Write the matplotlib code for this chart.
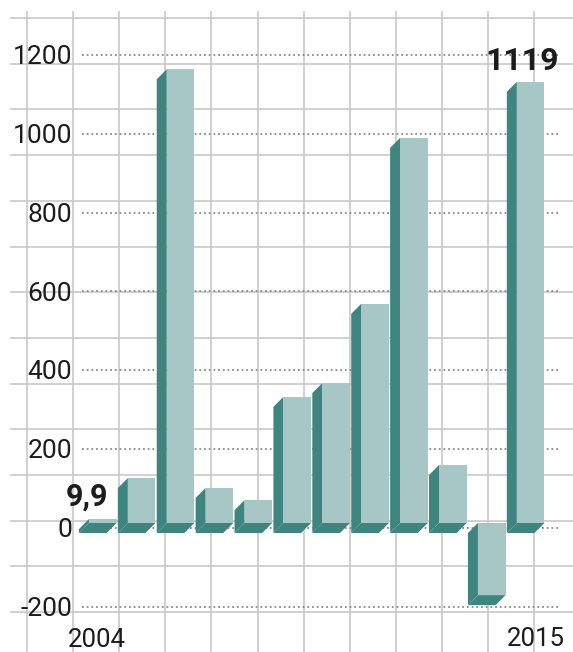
import matplotlib.pyplot as plt
from matplotlib.patches import Polygon

plt.rcParams['font.family'] = ['Roboto', 'DejaVu Sans']

# data
years = list(range(2004, 2016))
values = [9.9, 114, 1151, 89, 58, 320, 355, 556, 977, 147, -183, 1119]
yticks = [-200, 0, 200, 400, 600, 800, 1000, 1200]
ytick_labels = ['-200', '0', '200', '400', '600', '800', '1000', '1200']

front_col = '#a6c7c5'
dark_col = '#3e857f'
grid_col = '#c8c8c8'
text_col = '#1c1c1c'

fig = plt.figure(figsize=(5.73, 6.52), dpi=100)

# background square grid (pixel space)
bg = fig.add_axes([0, 0, 1, 1])
bg.set_xlim(0, 573)
bg.set_ylim(652, 0)
bg.axis('off')
for k in range(14):
    y = 18 + 45.7 * k
    bg.plot([11, 573], [y, y], color=grid_col, lw=1.2, zorder=0)
for k in range(12):
    x = 27 + 46.1 * k
    bg.plot([x, x], [12, 652], color=grid_col, lw=1.2, zorder=0)

# data axes
ax = fig.add_axes([0, 0, 1, 1], facecolor='none')
ax.set_xlim(-2.641, 12.089)
ax.set_ylim(-314.6, 1339.4)
ax.axis('off')

# dotted value lines
ax.hlines(yticks, -0.533, 11.76, colors='#8a8a8a', lw=1.3,
          linestyles=(0, (1, 1.6)), zorder=1)
for t, lab in zip(yticks, ytick_labels):
    ax.text(-0.79, t - 23, lab, ha='right', va='baseline', fontsize=19,
            color=text_col)

w = 0.71
dx = 0.257
dy = 25.4
off = dy / 2

for i, v in enumerate(values):
    x0, x1 = i - w / 2, i + w / 2
    lo = off + min(0, v)
    hi = off + max(0, v)
    bottom = [(x0, lo), (x1, lo), (x1 - dx, lo - dy), (x0 - dx, lo - dy)]
    side = [(x0, lo), (x0, hi), (x0 - dx, hi - dy), (x0 - dx, lo - dy)]
    front = [(x0, lo), (x1, lo), (x1, hi), (x0, hi)]
    ax.add_patch(Polygon(bottom, closed=True, facecolor=dark_col, edgecolor='none', zorder=2))
    ax.add_patch(Polygon(side, closed=True, facecolor=dark_col, edgecolor='none', zorder=2))
    ax.add_patch(Polygon(front, closed=True, facecolor=front_col, edgecolor='none', zorder=3))

# value labels
ax.text(0 - 0.4, values[0] + 48, '9,9', ha='center', va='baseline',
        fontsize=22, fontweight='bold', color=text_col)
ax.text(11 - 0.22, values[-1] + 43, '1119', ha='center', va='baseline',
        fontsize=23, fontweight='bold', color=text_col)

# year labels
ax.text(0 - 0.16, -303, str(years[0]), ha='center', va='baseline',
        fontsize=18.5, color=text_col)
ax.text(11 + 0.13, -299, str(years[-1]), ha='center', va='baseline',
        fontsize=18.5, color=text_col)

fig.savefig('out.png', dpi=100)
